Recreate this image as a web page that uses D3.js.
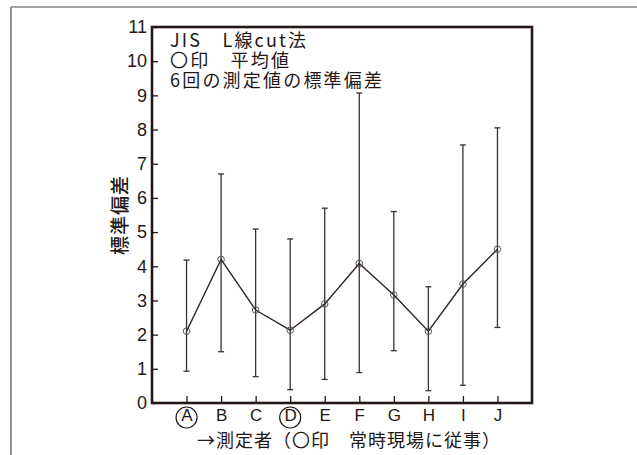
<!DOCTYPE html>
<html>
<head>
<meta charset="utf-8">
<script src="https://cdn.jsdelivr.net/npm/d3@7"></script>
<style>
  body { margin: 0; background: #fff; }
  svg { display: block; }
</style>
</head>
<body>
<script>
// 測定者ごとの平均値と標準偏差の範囲
var persons = ["A", "B", "C", "D", "E", "F", "G", "H", "I", "J"];
var circled = ["A", "D"];
var meanVals = [2.1, 4.2, 2.72, 2.13, 2.9, 4.08, 3.16, 2.1, 3.48, 4.5];
var upperVals = [4.18, 6.7, 5.09, 4.8, 5.7, 9.07, 5.6, 3.4, 7.55, 8.05];
var lowerVals = [0.93, 1.5, 0.77, 0.39, 0.69, 0.89, 1.53, 0.36, 0.52, 2.21];
var yTicks = [0, 1, 2, 3, 4, 5, 6, 7, 8, 9, 10, 11];
var noteLines = ["JIS\u3000L線cut法", "〇印\u3000平均値", "6回の測定値の標準偏差"];

var W = 637, H = 455;
var plotL = 152, plotR = 532, plotT = 27, plotB = 403;
var ink = "#231815";
var jp = "'Noto Sans CJK JP', sans-serif";
var num = "'Liberation Sans', Arial, sans-serif";

var svg = d3.select("body").append("svg")
    .attr("width", W)
    .attr("height", H);

// 外枠（上と左だけ見えている）
svg.append("line").attr("x1", 11).attr("y1", 7).attr("x2", W).attr("y2", 7)
    .attr("stroke", "#4a4a4a").attr("stroke-width", 1.2);
svg.append("line").attr("x1", 11).attr("y1", 7).attr("x2", 11).attr("y2", H)
    .attr("stroke", "#4a4a4a").attr("stroke-width", 1.2);

var x = d3.scaleLinear().domain([0, 11]).range([plotL, plotR]);
var y = d3.scaleLinear().domain([0, 11]).range([plotB, plotT]);

// y axis, ticks inside
var gy = svg.append("g")
    .attr("transform", "translate(" + plotL + ",0)")
    .call(d3.axisLeft(y).tickValues(yTicks).tickSize(-6).tickPadding(5));
gy.select(".domain").remove();
gy.selectAll("line").attr("stroke", ink).attr("stroke-width", 1.3);
gy.selectAll("text")
    .attr("fill", ink)
    .style("font-family", num)
    .style("font-size", "18px");

// x axis
var gx = svg.append("g")
    .attr("transform", "translate(0," + plotB + ")")
    .call(d3.axisBottom(x)
        .tickValues(d3.range(1, persons.length + 1))
        .tickFormat(function (i) { return persons[i - 1]; })
        .tickSize(-7).tickPadding(6));
gx.select(".domain").remove();
gx.selectAll("line").attr("stroke", ink).attr("stroke-width", 1.3);
gx.selectAll("text")
    .attr("fill", ink)
    .style("font-family", num)
    .style("font-size", "17px");

// 常時現場に従事の人は丸で囲む
svg.selectAll("circle.mark")
    .data(circled)
    .enter().append("circle")
    .attr("class", "mark")
    .attr("cx", function (d) { return x(persons.indexOf(d) + 1); })
    .attr("cy", 417.5)
    .attr("r", 10.5)
    .attr("fill", "none")
    .attr("stroke", ink)
    .attr("stroke-width", 1.2);

// plot frame
svg.append("rect")
    .attr("x", plotL).attr("y", plotT)
    .attr("width", plotR - plotL).attr("height", plotB - plotT)
    .attr("fill", "none")
    .attr("stroke", ink)
    .attr("stroke-width", 2.6);

// error bars
var bars = svg.append("g").selectAll("g")
    .data(persons)
    .enter().append("g");
bars.append("line")
    .attr("x1", function (d, i) { return x(i + 1); })
    .attr("x2", function (d, i) { return x(i + 1); })
    .attr("y1", function (d, i) { return y(upperVals[i]); })
    .attr("y2", function (d, i) { return y(lowerVals[i]); })
    .attr("stroke", "#3b3131").attr("stroke-width", 1.3);
bars.append("line")
    .attr("x1", function (d, i) { return x(i + 1) - 3; })
    .attr("x2", function (d, i) { return x(i + 1) + 3; })
    .attr("y1", function (d, i) { return y(upperVals[i]); })
    .attr("y2", function (d, i) { return y(upperVals[i]); })
    .attr("stroke", "#3b3131").attr("stroke-width", 1.3);
bars.append("line")
    .attr("x1", function (d, i) { return x(i + 1) - 3; })
    .attr("x2", function (d, i) { return x(i + 1) + 3; })
    .attr("y1", function (d, i) { return y(lowerVals[i]); })
    .attr("y2", function (d, i) { return y(lowerVals[i]); })
    .attr("stroke", "#3b3131").attr("stroke-width", 1.3);

// mean line + markers
var line = d3.line()
    .x(function (d, i) { return x(i + 1); })
    .y(function (d) { return y(d); });
svg.append("path")
    .datum(meanVals)
    .attr("d", line)
    .attr("fill", "none")
    .attr("stroke", "#2e2626")
    .attr("stroke-width", 1.4);
svg.selectAll("circle.mean")
    .data(meanVals)
    .enter().append("circle")
    .attr("class", "mean")
    .attr("cx", function (d, i) { return x(i + 1); })
    .attr("cy", function (d) { return y(d); })
    .attr("r", 3.3)
    .attr("fill", "none")
    .attr("stroke", "#5a5252")
    .attr("stroke-width", 1);

// note text
svg.append("g").selectAll("text")
    .data(noteLines)
    .enter().append("text")
    .attr("x", 170)
    .attr("y", function (d, i) { return 47 + i * 20; })
    .attr("fill", ink)
    .style("font-family", jp)
    .style("font-size", "18px")
    .style("letter-spacing", "2.2px")
    .text(function (d) { return d; });

// axis titles
svg.append("text")
    .attr("transform", "translate(120," + ((plotT + plotB) / 2) + ") rotate(-90)")
    .attr("text-anchor", "middle")
    .attr("dy", "0.35em")
    .attr("fill", ink)
    .style("font-family", jp)
    .style("font-size", "19px")
    .style("font-weight", "500")
    .style("letter-spacing", "1px")
    .text("標準偏差");

svg.append("text")
    .attr("x", 197)
    .attr("y", 447)
    .attr("fill", ink)
    .style("font-family", jp)
    .style("font-size", "18px")
    .style("letter-spacing", "1px")
    .text("→測定者（〇印\u3000常時現場に従事）");
</script>
</body>
</html>
